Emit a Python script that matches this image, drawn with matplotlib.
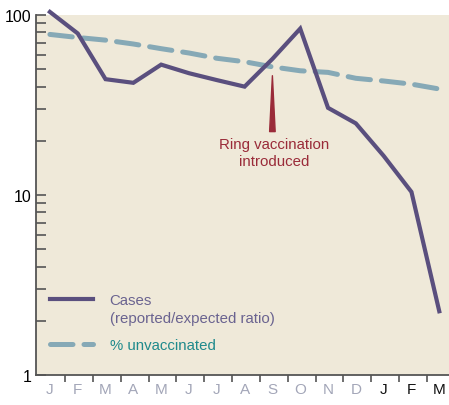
import numpy as np
import matplotlib.pyplot as plt
from matplotlib.lines import Line2D

plt.rcParams['font.family'] = ['Liberation Sans', 'DejaVu Sans']

months = ["J", "F", "M", "A", "M", "J", "J", "A", "S", "O", "N", "D", "J", "F", "M"]
years = ["1968", "1969"]

cases = [104, 79, 44, 42, 53, 47.5, 43.5, 40, 57, 84, 30.5, 25, 16.5, 10.4, 2.26]
unvacc = [78, 75, 72.5, 69, 65, 61.5, 57.5, 55, 51.5, 49, 48, 44.5, 43, 41.3, 38.8]

purple = "#5a4f7e"
teal_line = "#86a9b6"
red = "#9a2b39"
bg = "#efe9d9"

fig = plt.figure(figsize=(4.49, 4.06), dpi=100)
ax = fig.add_axes([36 / 449, 30 / 406, 413 / 449, 360 / 406])
ax.set_facecolor(bg)

x = np.arange(len(months))
ax.plot(x, unvacc, color=teal_line, lw=3.6, dashes=(4.5, 2.2),
        dash_capstyle="round", solid_capstyle="round", zorder=2)
ax.plot(x, cases, color=purple, lw=3.0, clip_on=False,
        solid_joinstyle="miter", zorder=3)

ax.set_yscale("log")
ax.set_ylim(1, 100)
ax.set_xlim(-0.5, 14.35)

for s in ["top", "right"]:
    ax.spines[s].set_visible(False)
for s in ["left", "bottom"]:
    ax.spines[s].set_color("#555555")
    ax.spines[s].set_linewidth(1.3)

ax.set_yticks([1, 10, 100])
ax.set_yticklabels(["1", "10", "100"])
ax.tick_params(axis="y", which="major", direction="in", length=7, width=1.2,
               color="#555555", labelsize=11.5, pad=3)
ax.tick_params(axis="y", which="minor", direction="in", length=7, width=1.2,
               color="#555555")

ax.set_xticks(x)
ax.set_xticklabels(months)
ax.set_xticks(x[:-1] + 0.55, minor=True)
ax.tick_params(axis="x", which="major", length=0, labelsize=11, pad=5)
ax.tick_params(axis="x", which="minor", direction="out", length=5, width=1.2,
               color="#555555")
for i, lab in enumerate(ax.get_xticklabels()):
    lab.set_color("#a3a6b8" if i < 12 else "#111111")

ax.text(5.5, -0.08, years[0], transform=ax.get_xaxis_transform(),
        ha="center", va="top", fontsize=11, color="#a3a6b8")
ax.text(13, -0.08, years[1], transform=ax.get_xaxis_transform(),
        ha="center", va="top", fontsize=11, color="#111111")

ax.annotate("", xy=(8, 46), xytext=(8, 22.5),
            arrowprops=dict(arrowstyle="wedge,tail_width=0.4", color=red,
                            shrinkA=0, shrinkB=0))
ax.text(8.05, 21, "Ring vaccination\nintroduced", ha="center", va="top",
        fontsize=10.8, color=red, linespacing=1.25)

handles = [Line2D([], [], color=purple, lw=3.0),
           Line2D([], [], color=teal_line, lw=3.6, dashes=(4.5, 2.2),
                  dash_capstyle="round")]
leg = ax.legend(handles, ["Cases", "% unvaccinated"],
                loc="lower left", bbox_to_anchor=(0.0, 0.025), frameon=False,
                fontsize=10.8, handlelength=2.9, handletextpad=1.1,
                labelspacing=2.1)
leg.get_texts()[0].set_color("#6a6390")
leg.get_texts()[1].set_color("#1f8a8c")
ax.annotate("(reported/expected ratio)", xy=(0, 0),
            xycoords=leg.get_texts()[0], xytext=(0, -3),
            textcoords="offset points", ha="left", va="top",
            fontsize=10.8, color="#6a6390", zorder=10)

fig.savefig("out.png", dpi=100, facecolor="white")
